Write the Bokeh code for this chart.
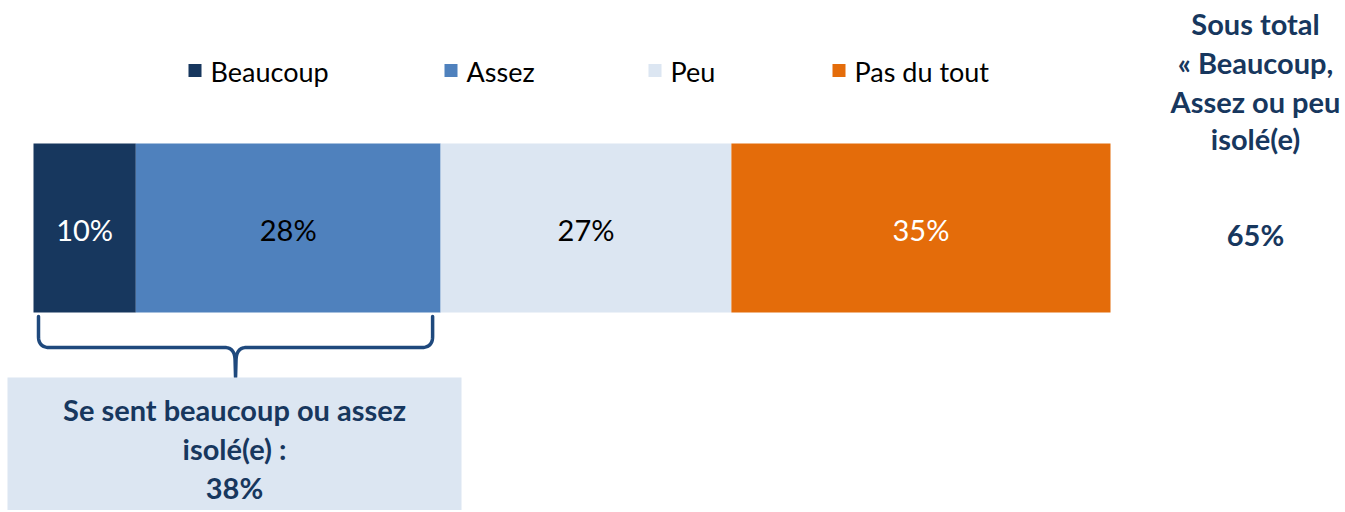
import numpy as np
from bokeh.plotting import figure
from bokeh.models import Range1d, ColumnDataSource
from bokeh.core.properties import value
from bokeh.embed import file_html
from bokeh.resources import INLINE

# ---- data ----
categories = ["Beaucoup", "Assez", "Peu", "Pas du tout"]
values = [9.5, 28.3, 27.0, 35.2]
value_labels = ["10%", "28%", "27%", "35%"]
colors = ["#17375E", "#4F81BD", "#DCE6F2", "#E46C0A"]
label_colors = ["#FFFFFF", "#000000", "#000000", "#FFFFFF"]
subtotal_title = ["Sous total", "\u00ab Beaucoup,", "Assez ou peu", "isol\u00e9(e)"]
subtotal_value = "65%"
box_lines = ["Se sent beaucoup ou assez", "isol\u00e9(e) :", "38%"]

NAVY = "#17375E"
BRACE = "#1F497D"

W, H = 1345, 510
# x: percent scale ; 0% at page x=33, 100% at page x=1110
X0, X100 = 33.0, 1110.0
PPU = (X100 - X0) / 100.0
def px(xpage):
    return (xpage - X0) / PPU

p = figure(width=W, height=H, output_backend="svg", toolbar_location=None,
           x_range=Range1d(px(0), px(W)), y_range=Range1d(H, 0),
           min_border=0, outline_line_color=None, background_fill_color="white",
           border_fill_color="white")
p.axis.visible = False
p.grid.visible = False

cum = np.cumsum([0] + values)
src = ColumnDataSource(dict(left=cum[:-1], right=cum[1:], mid=(cum[:-1] + cum[1:]) / 2,
                            color=colors, lab=value_labels, lcol=label_colors))
BAR_Y, BAR_H = 227.5, 169
p.hbar(y=BAR_Y, left="left", right="right", height=BAR_H, fill_color="color",
       line_color=None, source=src)
p.text(x="mid", y=BAR_Y + 1, text="lab", text_color="lcol", source=src,
       text_font=value("Lato"), text_font_size="29px", text_align="center",
       text_baseline="middle")

# legend
leg_sq = [188, 444, 648, 832]
leg_src = ColumnDataSource(dict(x=[px(v + 6.5) for v in leg_sq], tx=[px(v + 22) for v in leg_sq],
                                c=colors, t=categories))
p.rect(x="x", y=70, width=13 / PPU, height=13, fill_color="c", line_color=None, source=leg_src)
p.text(x="tx", y=71, text="t", source=leg_src, text_font=value("Lato"),
       text_font_size="27px", text_align="left", text_baseline="middle", text_color="#000000")

# subtotal on the right
BOLD = "29px"
p.text(x=[px(1255)] * 4, y=[23, 62, 101, 138], text=subtotal_title, text_font=value("Lato"),
       text_font_style="bold", text_font_size=BOLD, text_align="center",
       text_baseline="middle", text_color=NAVY)
p.text(x=[px(1255)], y=[234], text=[subtotal_value], text_font=value("Lato"),
       text_font_style="bold", text_font_size=BOLD, text_align="center",
       text_baseline="middle", text_color=NAVY)

# brace under first two segments
def quad(a, c, b, n=12):
    t = np.linspace(0, 1, n)[:, None]
    a, c, b = map(np.array, (a, c, b))
    return (1 - t) ** 2 * a + 2 * (1 - t) * t * c + t ** 2 * b

xl = X0 + 5
xr = X0 + (values[0] + values[1]) * PPU - 8
xm = (xl + xr) / 2
yt, yh, ytip = 316, 347, 377
r = 11
pts = [np.array([[xl, yt]]),
       quad((xl, yh - r), (xl, yh), (xl + r, yh)),
       quad((xm - r, yh), (xm - 1, yh), (xm - 0.5, yh + 12)),
       np.array([[xm, ytip]]),
       quad((xm + 0.5, yh + 12), (xm + 1, yh), (xm + r, yh)),
       quad((xr - r, yh), (xr, yh), (xr, yh - r)),
       np.array([[xr, yt]])]
path = np.vstack(pts)
p.line(x=[px(v) for v in path[:, 0]], y=path[:, 1], line_color=BRACE, line_width=3.5,
       line_join="round", line_cap="round")

# summary box
p.quad(left=px(7), right=px(461), top=377, bottom=H, fill_color="#DCE6F2", line_color=None)
p.text(x=[px(234)] * 3, y=[409, 448, 487], text=box_lines, text_font=value("Lato"),
       text_font_style="bold", text_font_size=BOLD, text_align="center",
       text_baseline="middle", text_color=NAVY)

open("out.html", "w").write(file_html(p, INLINE))
